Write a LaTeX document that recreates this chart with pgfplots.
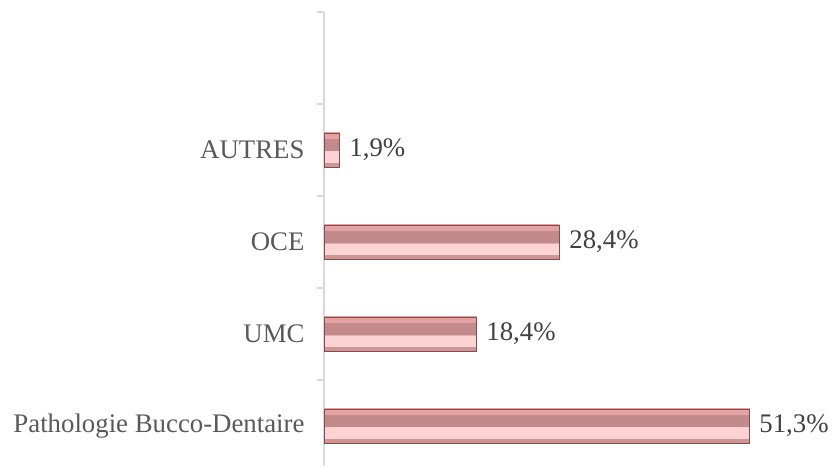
\documentclass[border=0pt]{standalone}
\usepackage{fontspec}
\setmainfont{Liberation Serif}
\usepackage{pgfplots}
\pgfplotsset{compat=1.18}

\definecolor{bartop}{HTML}{E3A3A3}
\definecolor{bardark}{HTML}{C28A8A}
\definecolor{barlight}{HTML}{FDD2D2}
\definecolor{barbottom}{HTML}{CF9595}
\definecolor{baredge}{HTML}{7A5050}
\definecolor{axisgray}{HTML}{D9D9D9}
\definecolor{labgray}{HTML}{595959}
\definecolor{valgray}{HTML}{404040}

\pgfdeclareverticalshading{bevel}{100bp}{%
  color(0bp)=(barbottom); color(25bp)=(barbottom); color(31bp)=(barbottom);
  color(31.01bp)=(barlight); color(48.6bp)=(barlight);
  color(48.61bp)=(bardark); color(67bp)=(bardark);
  color(67.01bp)=(bartop); color(75bp)=(bartop); color(100bp)=(bartop)}

\pgfplotsset{
  bevelbar/.style={xbar, bar shift=0pt, bar width=34pt, shading=bevel,
    draw=baredge, line width=0.6pt, point meta=x,
    nodes near coords={\pgfmathprintnumber[fixed,fixed zerofill,precision=1,use comma,assume math mode=true]{\pgfplotspointmeta}\%},
    nodes near coords style={font=\fontsize{26.8}{32}\selectfont, text=valgray, anchor=west, xshift=6pt}},
}

\begin{document}
\begin{tikzpicture}
\useasboundingbox (0,0) rectangle (837pt,466pt);
\begin{axis}[
    at={(324pt,0pt)}, anchor=south west,
    scale only axis,
    width=498pt, height=454pt,
    xmin=0, xmax=60,
    ymin=-0.435, ymax=4.5,
    axis x line=none,
    axis y line=left,
    y axis line style={-, draw=axisgray, line width=1.2pt},
    ytick={0,1,2,3},
    yticklabels={Pathologie Bucco-Dentaire, UMC, OCE, AUTRES},
    major tick length=0pt,
    minor ytick={-0.5,0.5,1.5,2.5,3.5,4.5},
    minor tick length=7pt,
    tick align=outside,
    minor tick style={draw=axisgray, line width=1.2pt},
    yticklabel style={font=\fontsize{26.8}{32}\selectfont, text=labgray, xshift=-16pt},
    clip=false,
]
\addplot[bevelbar] coordinates {(51.3,0)};
\addplot[bevelbar] coordinates {(18.4,1)};
\addplot[bevelbar] coordinates {(28.4,2)};
\addplot[bevelbar] coordinates {(1.9,3)};
\end{axis}
\end{tikzpicture}
\end{document}
